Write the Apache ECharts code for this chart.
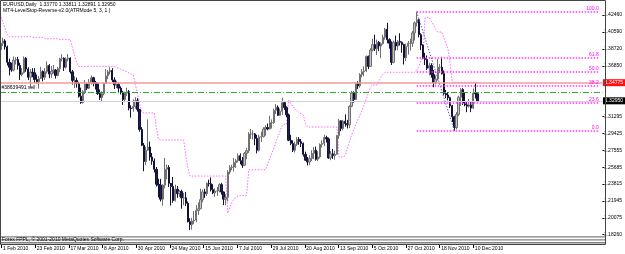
<!DOCTYPE html>
<html><head><meta charset="utf-8">
<script src="https://cdn.jsdelivr.net/npm/echarts@6/dist/echarts.min.js"></script>
<style>html,body{margin:0;padding:0;background:#fff}#c{width:625px;height:254px}</style>
</head><body><div id="c"></div>
<script>
// [open, close, low, high]
const candlesFeb = [
[1.3865,1.3935,1.3855,1.3960],[1.3935,1.3960,1.3905,1.3995],[1.3960,1.3895,1.3865,1.3980],[1.3895,1.3725,1.3690,1.3910],
[1.3725,1.3670,1.3580,1.3765],[1.3670,1.3640,1.3620,1.3720],[1.3640,1.3750,1.3625,1.3790],[1.3750,1.3755,1.3700,1.3780],
[1.3755,1.3690,1.3645,1.3785],[1.3690,1.3590,1.3530,1.3720],[1.3590,1.3610,1.3570,1.3660],[1.3610,1.3770,1.3600,1.3790],
[1.3770,1.3650,1.3620,1.3780],[1.3650,1.3560,1.3530,1.3670],[1.3560,1.3615,1.3445,1.3650],[1.3615,1.3610,1.3560,1.3660],
[1.3610,1.3535,1.3500,1.3660],[1.3535,1.3510,1.3490,1.3590],[1.3510,1.3545,1.3435,1.3575],[1.3545,1.3625,1.3540,1.3675]];
const candlesMar = [
[1.3625,1.3560,1.3515,1.3635],[1.3560,1.3620,1.3530,1.3660],[1.3620,1.3690,1.3600,1.3735],[1.3690,1.3595,1.3550,1.3705],
[1.3595,1.3625,1.3555,1.3685],[1.3625,1.3640,1.3600,1.3695],[1.3640,1.3580,1.3545,1.3650],[1.3580,1.3655,1.3570,1.3675],
[1.3655,1.3765,1.3615,1.3775],[1.3765,1.3770,1.3735,1.3815],[1.3770,1.3670,1.3630,1.3780],[1.3670,1.3760,1.3655,1.3780],
[1.3760,1.3770,1.3735,1.3815],[1.3770,1.3620,1.3600,1.3780],[1.3620,1.3525,1.3480,1.3640],[1.3525,1.3525,1.3440,1.3570],
[1.3525,1.3490,1.3445,1.3555],[1.3490,1.3350,1.3335,1.3510],[1.3350,1.3280,1.3267,1.3445],[1.3280,1.3400,1.3270,1.3420],
[1.3400,1.3485,1.3375,1.3530],[1.3485,1.3440,1.3420,1.3495],[1.3440,1.3505,1.3430,1.3540]];
const candlesApr = [
[1.3505,1.3555,1.3480,1.3580],[1.3555,1.3500,1.3460,1.3565],[1.3500,1.3490,1.3425,1.3520],[1.3490,1.3380,1.3365,1.3500],
[1.3380,1.3335,1.3310,1.3425],[1.3335,1.3380,1.3285,1.3405],[1.3380,1.3490,1.3360,1.3500],[1.3490,1.3575,1.3490,1.3650],
[1.3575,1.3620,1.3540,1.3640],[1.3620,1.3635,1.3590,1.3670],[1.3635,1.3530,1.3505,1.3660],[1.3530,1.3475,1.3430,1.3560],
[1.3475,1.3480,1.3440,1.3520],[1.3480,1.3440,1.3385,1.3500],[1.3440,1.3395,1.3370,1.3460],[1.3395,1.3315,1.3255,1.3410],
[1.3315,1.3385,1.3285,1.3400],[1.3385,1.3400,1.3355,1.3445],[1.3400,1.3220,1.3195,1.3420],[1.3220,1.3215,1.3115,1.3250],
[1.3215,1.3240,1.3180,1.3315],[1.3240,1.3300,1.3215,1.3340]];
const candlesMay = [
[1.3300,1.3205,1.3180,1.3330],[1.3205,1.2985,1.2960,1.3210],[1.2985,1.2810,1.2800,1.3010],[1.2810,1.2630,1.2523,1.2835],
[1.2630,1.2755,1.2590,1.2795],[1.2755,1.2790,1.2750,1.3095],[1.2790,1.2680,1.2640,1.2850],[1.2680,1.2635,1.2595,1.2725],
[1.2635,1.2545,1.2510,1.2665],[1.2545,1.2380,1.2355,1.2570],[1.2380,1.2370,1.2235,1.2440],[1.2370,1.2215,1.2190,1.2440],
[1.2215,1.2370,1.2143,1.2380],[1.2370,1.2545,1.2335,1.2670],[1.2545,1.2565,1.2435,1.2595],[1.2565,1.2390,1.2350,1.2590],
[1.2390,1.2355,1.2145,1.2390],[1.2355,1.2200,1.2175,1.2460],[1.2200,1.2325,1.2190,1.2375],[1.2325,1.2275,1.2230,1.2360],
[1.2275,1.2300,1.2240,1.2315]];
const candlesJun = [
[1.2300,1.2230,1.2110,1.2320],[1.2230,1.2230,1.2150,1.2285],[1.2230,1.2170,1.2140,1.2295],[1.2170,1.1965,1.1960,1.2190],
[1.1965,1.1935,1.1876,1.2005],[1.1935,1.1975,1.1880,1.2010],[1.1975,1.1985,1.1940,1.2085],[1.1985,1.2090,1.1960,1.2150],
[1.2090,1.2110,1.2040,1.2180],[1.2110,1.2210,1.2105,1.2330],[1.2210,1.2295,1.2180,1.2320],[1.2295,1.2275,1.2230,1.2330],
[1.2275,1.2390,1.2250,1.2400],[1.2390,1.2385,1.2355,1.2430],[1.2385,1.2320,1.2300,1.2455],[1.2320,1.2285,1.2270,1.2380],
[1.2285,1.2305,1.2240,1.2335],[1.2305,1.2305,1.2250,1.2350],[1.2305,1.2375,1.2290,1.2390],[1.2375,1.2295,1.2265,1.2395],
[1.2295,1.2215,1.2150,1.2300],[1.2215,1.2235,1.2150,1.2270]];
const candlesJul = [
[1.2235,1.2515,1.2190,1.2535],[1.2515,1.2565,1.2490,1.2590],[1.2565,1.2570,1.2535,1.2595],[1.2570,1.2620,1.2520,1.2670],
[1.2620,1.2640,1.2560,1.2660],[1.2640,1.2695,1.2620,1.2720],[1.2695,1.2640,1.2600,1.2720],[1.2640,1.2590,1.2560,1.2680],
[1.2590,1.2720,1.2580,1.2735],[1.2720,1.2750,1.2655,1.2780],[1.2750,1.2935,1.2725,1.2955],[1.2935,1.2935,1.2880,1.2990],
[1.2935,1.2935,1.2875,1.2975],[1.2935,1.2885,1.2810,1.2945],[1.2885,1.2755,1.2720,1.2925],[1.2755,1.2900,1.2740,1.2925],
[1.2900,1.2905,1.2845,1.2960],[1.2905,1.2990,1.2895,1.3010],[1.2990,1.3005,1.2915,1.3030],[1.3005,1.2990,1.2975,1.3050],
[1.2990,1.3060,1.2985,1.3135],[1.3060,1.3060,1.2995,1.3095]];
const candlesAug = [
[1.3060,1.3195,1.3045,1.3215],[1.3195,1.3230,1.3155,1.3265],[1.3230,1.3140,1.3135,1.3250],[1.3140,1.3185,1.3135,1.3215],
[1.3185,1.3280,1.3145,1.3335],[1.3280,1.3225,1.3200,1.3290],[1.3225,1.3145,1.3120,1.3240],[1.3145,1.2865,1.2855,1.3160],
[1.2865,1.2830,1.2810,1.2925],[1.2830,1.2755,1.2735,1.2865],[1.2755,1.2820,1.2730,1.2850],[1.2820,1.2875,1.2800,1.2900],
[1.2875,1.2850,1.2815,1.2900],[1.2850,1.2830,1.2790,1.2880],[1.2830,1.2710,1.2685,1.2840],[1.2710,1.2645,1.2640,1.2740],
[1.2645,1.2625,1.2587,1.2680],[1.2625,1.2665,1.2590,1.2700],[1.2665,1.2720,1.2635,1.2755],[1.2720,1.2755,1.2655,1.2790],
[1.2755,1.2655,1.2640,1.2795],[1.2655,1.2680,1.2635,1.2745]];
const candlesSep = [
[1.2680,1.2820,1.2665,1.2830],[1.2820,1.2830,1.2785,1.2865],[1.2830,1.2895,1.2800,1.2925],[1.2895,1.2880,1.2840,1.2915],
[1.2880,1.2670,1.2660,1.2895],[1.2670,1.2715,1.2645,1.2745],[1.2715,1.2695,1.2660,1.2770],[1.2695,1.2710,1.2650,1.2750],
[1.2710,1.2915,1.2705,1.2925],[1.2915,1.3080,1.2880,1.3100],[1.3080,1.2995,1.2965,1.3085],[1.2995,1.3075,1.2975,1.3090],
[1.3075,1.3050,1.3015,1.3150],[1.3050,1.3035,1.2995,1.3090],[1.3035,1.3240,1.3000,1.3250],[1.3240,1.3385,1.3230,1.3410],
[1.3385,1.3315,1.3280,1.3405],[1.3315,1.3490,1.3310,1.3505],[1.3490,1.3465,1.3430,1.3515],[1.3465,1.3590,1.3445,1.3605],
[1.3590,1.3620,1.3560,1.3650],[1.3620,1.3630,1.3570,1.3680]];
const candlesOct = [
[1.3630,1.3790,1.3620,1.3800],[1.3790,1.3680,1.3650,1.3800],[1.3680,1.3860,1.3675,1.3880],[1.3860,1.3920,1.3845,1.3985],
[1.3920,1.3875,1.3850,1.4030],[1.3875,1.3945,1.3805,1.3975],[1.3945,1.3905,1.3850,1.3960],[1.3905,1.3930,1.3770,1.3945],
[1.3930,1.4000,1.3920,1.4030],[1.4000,1.4090,1.3975,1.4105],[1.4090,1.3975,1.3935,1.4160],[1.3975,1.3935,1.3875,1.3990],
[1.3935,1.3725,1.3695,1.3955],[1.3725,1.3945,1.3715,1.3965],[1.3945,1.3905,1.3855,1.4020],[1.3905,1.3955,1.3860,1.3970],
[1.3955,1.3945,1.3910,1.4045],[1.3945,1.3920,1.3830,1.3955],[1.3920,1.3775,1.3700,1.3930],[1.3775,1.3900,1.3740,1.3930],
[1.3900,1.3935,1.3810,1.3960]];
const candlesNov = [
[1.3935,1.3935,1.3855,1.3985],[1.3935,1.4050,1.3895,1.4070],[1.4050,1.4160,1.3965,1.4175],[1.4160,1.4195,1.4120,1.4282],
[1.4195,1.4030,1.4000,1.4200],[1.4030,1.3915,1.3860,1.4045],[1.3915,1.3770,1.3765,1.3925],[1.3770,1.3755,1.3695,1.3830],
[1.3755,1.3660,1.3640,1.3800],[1.3660,1.3690,1.3580,1.3720],[1.3690,1.3590,1.3555,1.3715],[1.3590,1.3500,1.3450,1.3640],
[1.3500,1.3540,1.3480,1.3580],[1.3540,1.3670,1.3525,1.3760],[1.3670,1.3670,1.3605,1.3705],[1.3670,1.3600,1.3590,1.3785],
[1.3600,1.3380,1.3365,1.3635],[1.3380,1.3365,1.3330,1.3420],[1.3365,1.3335,1.3305,1.3395],[1.3335,1.3245,1.3220,1.3345],
[1.3245,1.3125,1.3065,1.3255],[1.3125,1.3005,1.2969,1.3135]];
const candlesDec = [
[1.3005,1.3150,1.2985,1.3175],[1.3150,1.3340,1.3130,1.3355],[1.3340,1.3425,1.3245,1.3440],[1.3425,1.3275,1.3255,1.3440],
[1.3275,1.3255,1.3240,1.3395],[1.3255,1.3240,1.3175,1.3285],[1.3240,1.3255,1.3225,1.3320],[1.3255,1.3220,1.3175,1.3290],
[1.3220,1.3385,1.3210,1.3435],[1.3385,1.3377,1.3325,1.3497],[1.33770,1.32950,1.32891,1.33811]];

// LevelStop-Reverse trailing stop, one value per bar
const stopLine = [
1.4224,1.4160,1.4090,1.4026,1.4007,1.4007,1.4007,1.4007,1.4007,1.4007,1.4007,1.4007,1.4007,1.4007,1.4007,
1.4000,1.4000,1.4000,1.4000,1.4000,1.4000,1.3985,1.3985,1.3985,1.3985,1.3985,1.3985,1.3985,
1.3975,1.3975,1.3975,1.3975,1.3975,1.3975,1.3890,1.3800,1.3720,
1.3680,1.3680,1.3680,1.3680,1.3680,1.3680,1.3680,1.3680,1.3680,1.3680,1.3680,1.3680,1.3680,1.3680,1.3680,1.3680,1.3680,1.3680,
1.3670,1.3660,1.3650,1.3640,1.3630,1.3620,1.3605,1.3595,1.3585,1.3480,1.3380,1.3270,1.3177,
1.3166,1.3166,1.3166,1.3166,1.3166,1.3166,1.3001,1.2880,
1.2868,1.2868,1.2868,1.2868,1.2868,1.2868,1.2868,1.2868,1.2868,1.2868,1.2868,1.2868,1.2700,1.2560,
1.2470,1.2470,1.2470,1.2470,1.2470,1.2470,1.2470,1.2470,1.2470,1.2470,1.2470,1.2470,1.2470,1.2470,1.2470,1.2470,1.2470,1.2470,
1.2062,1.2120,1.2180,1.2220,1.2240,1.2255,1.2255,1.2255,1.2255,1.2255,
1.2540,1.2540,1.2540,1.2540,1.2540,1.2540,1.2540,1.2540,1.2540,
1.2600,1.2660,1.2720,1.2779,1.2850,1.2910,1.2970,1.3033,1.3040,1.3040,
1.3309,1.3270,1.3240,1.3210,1.3190,1.3170,1.3155,1.3143,1.3050,
1.3011,1.3011,1.3011,1.3011,1.3011,1.3011,1.3011,1.3011,1.3011,1.3011,1.3011,1.3011,1.3011,1.3011,1.3011,
1.2680,1.2680,1.2680,1.2700,1.2779,1.2850,1.2922,1.2980,1.3033,1.3090,1.3145,1.3198,1.3260,1.3320,1.3390,1.3452,
1.3474,1.3474,1.3474,1.3520,1.3560,1.3590,
1.3615,1.3615,1.3615,1.3615,1.3615,1.3615,1.3615,1.3615,1.3615,1.3615,1.3615,1.3615,1.3615,1.3615,1.3615,
1.3640,1.3680,1.3750,1.3760,
1.4214,1.4220,1.4220,1.4180,1.4136,1.4090,1.4059,1.4059,1.4059,1.3990,1.3930,1.3861,1.3700,
1.3505,1.3505,1.3505,1.3505,1.3505,1.3505,1.3505,1.3505,1.3505,1.3505,1.3505,1.3505,1.3505];

const priceTicks = [1.42460,1.40590,1.38720,1.36850,1.31295,1.29425,1.27555,1.25685,1.23815,1.21945,1.20075,1.18260];
const fibLevels = [0.0, 23.6, 38.2, 50.0, 61.8, 100.0];
const fibLow = 1.2969, fibHigh = 1.4282;
const fibHighIdx = 198, fibLowIdx = 216, fibEndIdx = 285;
const stopLossPrice = 1.34775, orderPrice = 1.3372, bidPrice = 1.32950;
const titleLine1 = 'EURUSD,Daily  1.33770 1.33811 1.32891 1.32950';
const titleLine2 = 'MT4-LevelStop-Reverse-v2.0(ATRMode 5, 3, 1 )';
const orderLabel = '#38639491 sell';
const footerText = 'Forex FPPL, © 2001-2010 MetaQuotes Software Corp.';

const candles = [].concat(candlesFeb,candlesMar,candlesApr,candlesMay,candlesJun,candlesJul,candlesAug,candlesSep,candlesOct,candlesNov,candlesDec);
const MON = ['Jan','Feb','Mar','Apr','May','Jun','Jul','Aug','Sep','Oct','Nov','Dec'];
const SLOTS = 287;
const cats = [];
let d = Date.UTC(2010,1,1);
while (cats.length < SLOTS) {
  const dt = new Date(d); const wd = dt.getUTCDay();
  if (wd !== 0 && wd !== 6) cats.push(dt.getUTCDate()+' '+MON[dt.getUTCMonth()]+' '+dt.getUTCFullYear());
  d += 86400000;
}
const FONT = 'Liberation Sans';
const labelEvery = (i) => i % 16 === 0 && i < candles.length;
const fibStyle = () => ({color:'#ff33ff',width:1.5,type:[1.5,1.5],opacity:1});

const fibMarks = fibLevels.map(l => {
  const p = fibLow + (fibHigh - fibLow) * l / 100;
  return [{coord:[fibHighIdx, p], lineStyle:fibStyle()}, {coord:[fibEndIdx, p], lineStyle:fibStyle(),
    label:{show:true, position:'insideEndTop', formatter:l.toFixed(1), color:'#ff00ff', fontSize:5, fontFamily:FONT, distance:0.5}}];
});
const diagStyle = () => ({color:'#6060b0',width:1,type:[1.5,1.5]});

const chart = echarts.init(document.getElementById('c'), null, {renderer:'canvas'});
chart.setOption({
  animation:false,
  backgroundColor:'#ffffff',
  grid:[{left:0,right:20,top:1,height:234},{left:0,right:20,top:244,height:1}],
  xAxis:[
    {type:'category',data:cats,gridIndex:0,show:false,boundaryGap:true},
    {type:'category',data:cats,gridIndex:1,boundaryGap:true,axisLine:{show:false},
     axisTick:{show:true,alignWithLabel:true,length:3,interval:labelEvery,lineStyle:{color:'#000'}},
     axisLabel:{interval:labelEvery,align:'left',margin:1.5,fontSize:5,color:'#000',fontFamily:FONT,padding:[0,0,0,1.5]}}
  ],
  yAxis:[
    {type:'value',gridIndex:0,position:'right',min:1.1820,max:1.4401,splitLine:{show:false},
     axisLine:{show:false},
     axisTick:{show:true,length:2,customValues:priceTicks,lineStyle:{color:'#000'}},
     axisLabel:{customValues:priceTicks,formatter:v=>v.toFixed(5),fontSize:5,color:'#000',margin:1.5,fontFamily:FONT}},
    {type:'value',gridIndex:1,show:false}
  ],
  series:[
    {type:'line',name:'levels',data:[],symbol:'none',z:1,silent:true,color:'#ff44ff',
     itemStyle:{color:'#ff44ff'},lineStyle:{color:'#ff44ff'},
     markLine:{symbol:['none','none'],silent:true,animation:false,
       lineStyle:{color:'#ff44ff',width:1,type:[1.5,1.5]},
       data:[
        {yAxis:stopLossPrice,lineStyle:{color:'#f39a9a',width:1.6,type:'solid'},
         label:{show:true,position:'end',formatter:stopLossPrice.toFixed(5),backgroundColor:'#ff1010',color:'#fff',fontSize:5,fontFamily:FONT,padding:[1,2,1,2],distance:0.5}},
        {yAxis:orderPrice,lineStyle:{color:'#33a833',width:1,type:[6,2,1,2]},
         label:{show:true,position:'insideStartTop',formatter:orderLabel,color:'#000',fontSize:5,fontFamily:FONT,distance:1.5}},
        {yAxis:bidPrice,lineStyle:{color:'#d4d4d4',width:1,type:'solid'},
         label:{show:true,position:'end',formatter:bidPrice.toFixed(5),backgroundColor:'#000',color:'#fff',fontSize:5,fontFamily:FONT,padding:[1,2,1,2],distance:0.5}},
        ...fibMarks,
        [{coord:[fibHighIdx,fibHigh],lineStyle:diagStyle(),label:{show:false}},{coord:[fibLowIdx,fibLow],lineStyle:diagStyle(),label:{show:false}}]
       ]}},
    {type:'line',name:'stop',data:stopLine,symbol:'none',z:2,silent:true,
     lineStyle:{color:'#ff66ff',width:1,type:[1.5,1.5]}},
    {type:'candlestick',name:'EURUSD',data:candles,barWidth:1.8,z:3,silent:true,
     itemStyle:{color:'#c4c4c4',color0:'#20204e',borderColor:'#707070',borderColor0:'#101038',borderWidth:1}}
  ],
  graphic:[
    {type:'rect',shape:{x:0.5,y:0.5,width:605,height:244},style:{fill:null,stroke:'#444',lineWidth:1},z:10,silent:true},
    {type:'rect',shape:{x:1,y:236.2,width:604,height:1.3},style:{fill:'#808080'},z:10,silent:true},
    {type:'rect',shape:{x:1,y:239.2,width:604,height:1.3},style:{fill:'#808080'},z:10,silent:true},
    {type:'rect',shape:{x:1,y:242.1,width:604,height:1.3},style:{fill:'#808080'},z:10,silent:true},
    {type:'text',x:2,y:239.5,style:{text:footerText,fontSize:5,fontFamily:FONT,fill:'#000',textVerticalAlign:'middle'},z:11,silent:true},
    {type:'text',x:3,y:5,style:{text:titleLine1,fontSize:5,fontFamily:FONT,fill:'#000',textVerticalAlign:'middle'},z:11,silent:true},
    {type:'text',x:3,y:11,style:{text:titleLine2,fontSize:5,fontFamily:FONT,fill:'#000',textVerticalAlign:'middle'},z:11,silent:true}
  ]
});
</script></body></html>
